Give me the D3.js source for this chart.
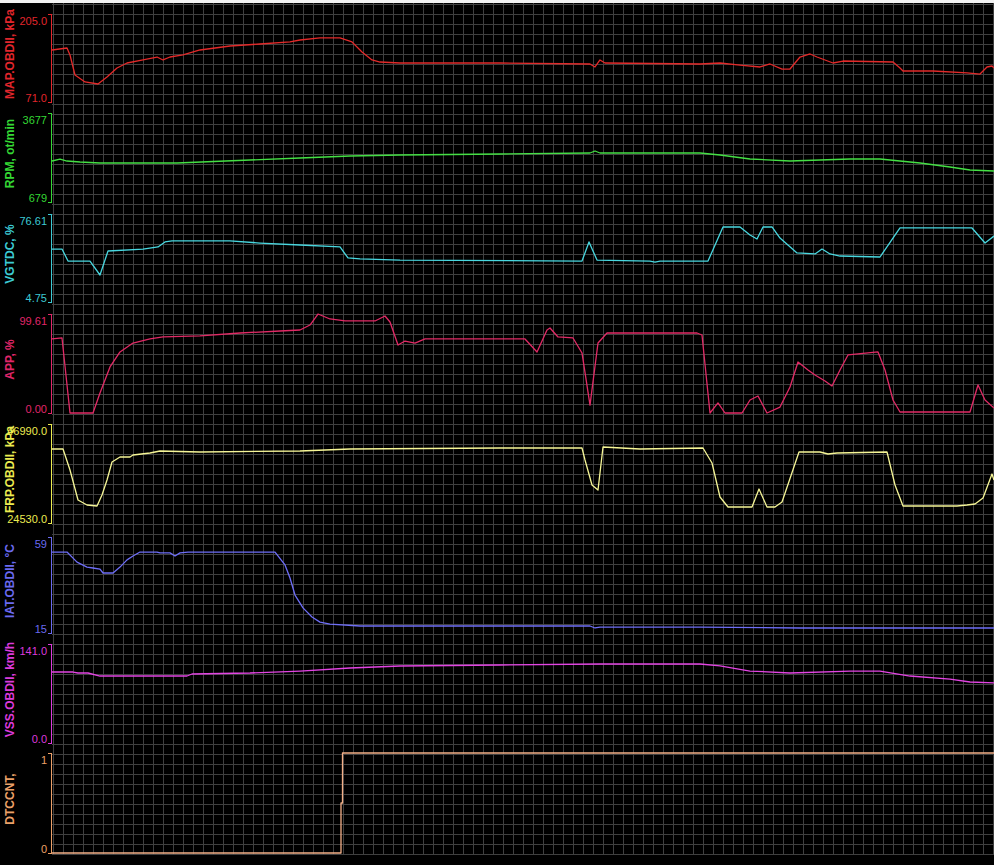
<!DOCTYPE html>
<html><head><meta charset="utf-8">
<script src="https://cdn.jsdelivr.net/npm/d3@7"></script>
<style>html,body{margin:0;padding:0;background:#000;}svg{display:block;}</style>
</head><body>
<script>
// ---------- DATA (time in seconds) ----------
const seriesNames = ["MAP.OBDII, kPa","RPM, ot/min","VGTDC, %","APP, %","FRP.OBDII, kPa","IAT.OBDII, °C","VSS.OBDII, km/h","DTCCNT,"];
const axisMin = [71.0, 679, 4.75, 0.00, 24530.0, 15, 0.0, 0];
const axisMax = [205.0, 3677, 76.61, 99.61, 46990.0, 59, 141.0, 1];
const minLabels = ["71.0","679","4.75","0.00","24530.0","15","0.0","0"];
const maxLabels = ["205.0","3677","76.61","99.61","46990.0","59","141.0","1"];
const timeSpan = [0, 94.2];

const mapTime = [0,1.5,1.8,2.3,3.3,4.6,5.5,6.5,7.5,9.1,10.5,11.1,11.8,13.1,14.8,17.8,20.8,23.8,24.8,26.8,28.8,30.0,31.0,32.0,32.8,34.8,44.8,53.8,54.3,54.8,55.3,64.8,66.8,68.8,70.8,71.8,73.0,73.8,74.8,75.8,76.5,78.1,79.1,84.1,84.8,85.1,88.1,91.5,92.8,93.5,94.0,94.2];
const mapValues = [150.2,153.2,142.6,112.1,101.5,98.4,109.1,122.8,130.4,135.0,139.5,135.0,139.5,142.6,150.2,156.3,159.3,162.4,165.4,168.5,168.5,162.4,147.1,135.0,131.9,130.4,130.4,128.9,124.3,135.0,130.4,128.9,130.4,127.3,124.3,128.9,121.2,121.2,139.5,144.1,139.5,130.4,133.4,131.9,122.8,118.2,118.2,115.2,113.6,124.3,125.8,122.8];

const rpmTime = [0,0.8,1.5,2.8,4.8,12.5,19.8,24.8,29.8,34.8,44.8,53.8,54.3,54.8,64.8,66.8,69.8,73.8,79.8,82.8,86.8,89.8,91.8,94.2];
const rpmValues = [2060,2127,2060,2026,1993,1993,2094,2161,2229,2262,2296,2330,2397,2330,2330,2262,2127,2060,2127,2127,1993,1858,1757,1723];

const vgtTime = [0,1.0,1.6,3.8,4.8,5.6,9.1,10.6,11.3,12.0,17.8,20.8,24.8,28.8,29.6,30.8,34.8,53.0,53.7,54.5,59.8,60.3,60.8,65.6,67.1,68.8,69.8,70.5,71.1,72.0,72.8,74.5,76.3,77.0,77.8,78.8,82.8,84.8,92.0,93.3,94.2];
const vgtValues = [48.0,48.0,38.2,38.2,26.8,46.4,48.0,49.7,53.8,54.6,54.6,52.9,51.3,49.7,40.7,39.9,39.0,38.2,53.8,39.0,38.2,37.4,38.2,38.2,66.0,66.0,59.5,56.2,66.0,66.0,57.0,44.8,44.0,48.0,44.0,42.3,41.5,65.2,65.2,52.9,58.6];

const appTime = [0,1.0,1.8,4.1,4.8,5.8,6.8,8.1,9.8,11.1,14.8,18.8,22.8,24.8,25.8,26.6,27.8,29.3,32.3,33.3,33.8,34.6,35.3,36.3,37.3,47.3,48.5,49.5,49.8,50.6,52.1,53.0,53.8,54.6,55.5,64.5,65.0,65.8,66.6,67.3,69.0,69.8,70.6,71.5,72.8,73.8,74.6,75.6,76.3,77.3,78.0,78.8,79.6,82.6,83.3,84.1,84.8,91.8,92.6,93.3,94.2];
const appValues = [74.5,75.5,0,0,20.1,46.3,61.4,70.4,74.5,76.5,77.5,80.5,82.5,83.5,88.5,99.6,94.6,92.6,92.6,97.6,91.6,68.4,72.4,70.4,74.5,74.5,61.4,83.5,85.5,76.5,75.5,60.4,8.0,70.4,80.5,80.5,78.5,0,10.1,0,0,13.1,17.1,0,6.0,26.2,51.3,43.3,38.2,32.2,27.2,43.3,58.4,61.4,43.3,13.1,1.0,1.0,28.2,13.1,5.0];

const frpTime = [0,1.1,1.8,2.6,3.5,4.5,5.0,5.5,6.0,6.8,7.8,8.1,9.8,10.8,14.8,24.8,29.8,44.8,53.0,53.3,54.0,54.6,55.1,58.8,65.1,66.0,66.8,67.6,70.0,70.7,71.5,72.3,73.0,74.7,76.8,77.6,78.5,83.5,84.3,85.1,90.5,91.5,92.3,93.1,94.0,94.2];
const frpValues = [41318,41318,36554,29748,28614,28387,30882,34285,38369,39503,39503,39957,40411,40865,40638,40865,41318,41545,41545,38823,33151,32017,41772,41318,41545,38142,30429,28160,28160,32244,28160,28160,29294,40638,40638,40184,40411,40638,33151,28387,28387,28614,28841,30202,35647,34285];

const iatTime = [0,1.5,2.5,3.5,4.1,4.8,5.1,6.1,6.8,7.5,8.1,8.8,10.5,10.8,11.8,12.3,12.8,13.6,22.3,23.3,23.8,24.3,25.1,26.0,26.8,27.8,30.8,53.8,54.3,54.8,64.8,74.8,94.2];
const iatValues = [52.1,52.1,47.5,45.2,44.8,44.3,42.5,42.5,45.2,48.5,50.3,52.1,52.1,51.7,51.7,50.3,51.7,52.1,52.1,46.2,40.2,32.4,26.5,22.3,20.0,19.1,18.2,18.2,17.3,17.7,17.7,17.3,17.3];

const vssTime = [0,2.1,2.6,3.6,4.8,13.5,14.0,19.8,24.8,29.8,34.8,44.8,54.8,64.8,66.8,69.8,73.8,79.8,82.8,85.8,89.8,91.8,94.2];
const vssValues = [101.1,101.1,99.7,99.7,95.4,95.4,98.3,99.7,102.5,106.8,109.7,111.1,112.5,112.5,109.7,102.5,99.7,102.5,102.5,95.4,91.1,86.9,85.5];

const dtcTime = [0,28.9,28.9,29.05,29.05,94.2];
const dtcValues = [0,0,0.5,0.5,1,1];

const seriesTimes = [mapTime,rpmTime,vgtTime,appTime,frpTime,iatTime,vssTime,dtcTime];
const seriesValues = [mapValues,rpmValues,vgtValues,appValues,frpValues,iatValues,vssValues,dtcValues];

// ---------- STYLE / LAYOUT ----------
const labelColors = ["#e2262c","#34d834","#3ccad4","#e0266a","#ecec50","#6a6af0","#dc3adc","#eca068"];
const lineColors  = ["#e42a2a","#44e044","#48d8e0","#e22a66","#f6f696","#6e6ef8","#e444e4","#f4b088"];
const panelTop    = [14,113,214,314,424,537,644,753];
const panelBottom = [102,202,302,413,523,633,743,853];

const W = 994, H = 865;
const plotLeft = 52, plotRight = 994;

const svg = d3.select("body").append("svg").attr("width", W).attr("height", H)
  .style("background", "#000");

svg.append("rect").attr("x",0).attr("y",0).attr("width",W).attr("height",3).attr("fill","#f2f2f2");

// grid
const grid = svg.append("g").attr("stroke", "#404040").attr("stroke-width", 1).attr("shape-rendering","crispEdges");
d3.range(53, plotRight, 10).forEach(x => {
  grid.append("line").attr("x1", x + 0.5).attr("x2", x + 0.5).attr("y1", 3).attr("y2", 855);
});
d3.range(4, 856, 10).forEach(y => {
  grid.append("line").attr("x1", plotLeft).attr("x2", plotRight).attr("y1", y + 0.5).attr("y2", y + 0.5);
});

const x = d3.scaleLinear().domain(timeSpan).range([plotLeft, plotRight]);

seriesNames.forEach((name, i) => {
  const y = d3.scaleLinear().domain([axisMin[i], axisMax[i]]).range([panelBottom[i], panelTop[i]]);
  const g = svg.append("g");

  // axis bracket
  const ax = d3.axisLeft(y)
    .tickValues([axisMin[i], axisMax[i]])
    .tickSizeInner(0).tickSizeOuter(3).tickPadding(4)
    .tickFormat((d, k) => k === 0 ? minLabels[i] : maxLabels[i]);
  const axg = g.append("g").attr("transform", `translate(51,0)`).call(ax);
  axg.select(".domain").attr("stroke", labelColors[i]).attr("stroke-width", 1).attr("shape-rendering","crispEdges");
  axg.selectAll(".tick line").remove();
  axg.selectAll(".tick text")
    .attr("fill", labelColors[i])
    .attr("font-family", "'Liberation Sans', Arial, sans-serif")
    .attr("font-size", 11)
    .attr("dy", null)
    .attr("y", (d, k) => k === 0 ? -1 : 10);
  axg.attr("font-size", null).attr("font-family", null);

  // rotated series name
  const cy = (panelTop[i] + panelBottom[i]) / 2 - 4;
  g.append("text")
    .attr("transform", `translate(14,${cy}) rotate(-90)`)
    .attr("text-anchor", "middle")
    .attr("fill", labelColors[i])
    .attr("font-family", "'Liberation Sans', Arial, sans-serif")
    .attr("font-weight", "bold")
    .attr("font-size", 12)
    .text(name);

  // series line
  const pts = seriesTimes[i].map((t, k) => [t, seriesValues[i][k]]);
  const line = d3.line().x(d => x(d[0])).y(d => y(d[1]));
  g.append("path").datum(pts)
    .attr("d", line)
    .attr("fill", "none")
    .attr("stroke", lineColors[i])
    .attr("stroke-width", 1.3)
    .attr("stroke-linejoin", "round");
});
</script>
</body></html>
